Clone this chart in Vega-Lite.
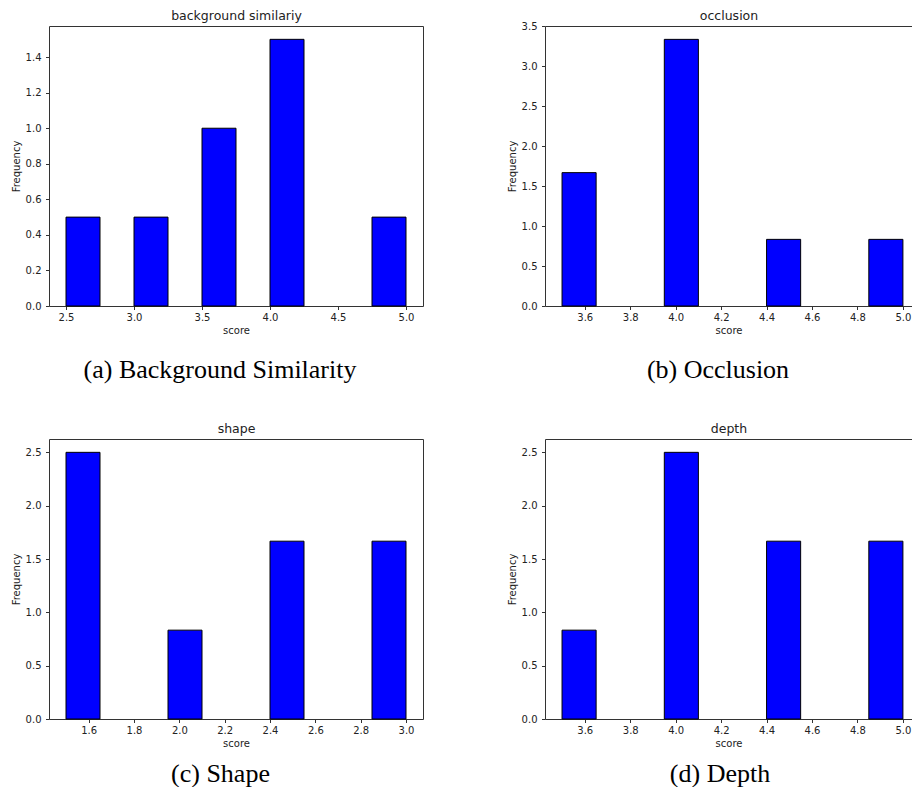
{
  "$schema": "https://vega.github.io/schema/vega-lite/v6.json",
  "background": "white",
  "padding": {"left": 11, "top": 9, "right": 0, "bottom": 0},
  "config": {
    "view": {"stroke": null},
    "font": "DejaVu Sans",
    "axis": {
      "grid": false,
      "domainColor": "#333333",
      "domainWidth": 1,
      "tickColor": "#333333",
      "tickSize": 3.5,
      "labelColor": "#222222",
      "titleColor": "#222222",
      "labelFont": "DejaVu Sans",
      "titleFont": "DejaVu Sans",
      "labelFontSize": 10,
      "titleFontSize": 10,
      "titleFontWeight": "normal"
    },
    "title": {
      "font": "Liberation Serif",
      "fontSize": 26,
      "fontWeight": "normal",
      "color": "black",
      "orient": "bottom",
      "anchor": "middle",
      "frame": "group",
      "offset": 17
    }
  },
  "datasets": {
    "bg": [
      {"start": 2.5, "end": 2.75, "freq": 0.5},
      {"start": 3.0, "end": 3.25, "freq": 0.5},
      {"start": 3.5, "end": 3.75, "freq": 1.0},
      {"start": 4.0, "end": 4.25, "freq": 1.5},
      {"start": 4.75, "end": 5.0, "freq": 0.5}
    ],
    "occ": [
      {"start": 3.5, "end": 3.65, "freq": 1.667},
      {"start": 3.95, "end": 4.1, "freq": 3.333},
      {"start": 4.4, "end": 4.55, "freq": 0.833},
      {"start": 4.85, "end": 5.0, "freq": 0.833}
    ],
    "shape": [
      {"start": 1.5, "end": 1.65, "freq": 2.5},
      {"start": 1.95, "end": 2.1, "freq": 0.833},
      {"start": 2.4, "end": 2.55, "freq": 1.667},
      {"start": 2.85, "end": 3.0, "freq": 1.667}
    ],
    "depth": [
      {"start": 3.5, "end": 3.65, "freq": 0.833},
      {"start": 3.95, "end": 4.1, "freq": 2.5},
      {"start": 4.4, "end": 4.55, "freq": 1.667},
      {"start": 4.85, "end": 5.0, "freq": 1.667}
    ]
  },
  "spacing": 39,
  "vconcat": [
    {
      "spacing": 84,
      "hconcat": [
        {
          "width": 374, "height": 280,
          "data": {"name": "bg"},
          "title": {"text": "(a) Background Similarity", "dx": -16, "offset": 21},
          "resolve": {"axis": {"x": "independent", "y": "independent"}},
          "layer": [
            {
              "mark": {"type": "bar", "fill": "#0000ff", "stroke": "black", "strokeWidth": 1},
              "encoding": {
                "x": {"field": "start", "type": "quantitative", "scale": {"domain": [2.375, 5.125], "nice": false, "zero": false},
                      "axis": {"title": "score", "values": [2.5, 3.0, 3.5, 4.0, 4.5, 5.0], "format": ".1f", "labelPadding": 3, "titlePadding": 3}},
                "x2": {"field": "end"},
                "y": {"field": "freq", "type": "quantitative", "scale": {"domain": [0, 1.575], "nice": false},
                      "axis": {"title": "Frequency", "values": [0, 0.2, 0.4, 0.6, 0.8, 1.0, 1.2, 1.4], "format": ".1f", "labelPadding": 4.5, "titlePadding": 4}},
                "y2": {"datum": 0}
              }
            },
            {
              "mark": {"type": "point", "opacity": 0},
              "encoding": {
                "x": {"field": "start", "type": "quantitative", "scale": {"domain": [2.375, 5.125], "nice": false, "zero": false},
                      "axis": {"orient": "top", "title": "background similariy", "titleFontSize": 12.5, "titlePadding": 4, "labels": false, "ticks": false}},
                "y": {"field": "freq", "type": "quantitative", "scale": {"domain": [0, 1.575], "nice": false},
                      "axis": {"orient": "right", "title": null, "labels": false, "ticks": false}}
              }
            }
          ]
        },
        {
          "width": 367, "height": 280,
          "data": {"name": "occ"},
          "title": {"text": "(b) Occlusion", "dx": -10.5, "offset": 21},
          "resolve": {"axis": {"x": "independent", "y": "independent"}},
          "layer": [
            {
              "mark": {"type": "bar", "fill": "#0000ff", "stroke": "black", "strokeWidth": 1},
              "encoding": {
                "x": {"field": "start", "type": "quantitative", "scale": {"domain": [3.425, 5.04], "nice": false, "zero": false},
                      "axis": {"title": "score", "values": [3.6, 3.8, 4.0, 4.2, 4.4, 4.6, 4.8, 5.0], "format": ".1f", "labelPadding": 3, "titlePadding": 3}},
                "x2": {"field": "end"},
                "y": {"field": "freq", "type": "quantitative", "scale": {"domain": [0, 3.5], "nice": false},
                      "axis": {"title": "Frequency", "values": [0, 0.5, 1.0, 1.5, 2.0, 2.5, 3.0, 3.5], "format": ".1f", "labelPadding": 4.5, "titlePadding": 4}},
                "y2": {"datum": 0}
              }
            },
            {
              "mark": {"type": "point", "opacity": 0},
              "encoding": {
                "x": {"field": "start", "type": "quantitative", "scale": {"domain": [3.425, 5.04], "nice": false, "zero": false},
                      "axis": {"orient": "top", "title": "occlusion", "titleFontSize": 12.5, "titlePadding": 4, "labels": false, "ticks": false}}
              }
            }
          ]
        }
      ]
    },
    {
      "spacing": 84,
      "hconcat": [
        {
          "width": 374, "height": 280,
          "data": {"name": "shape"},
          "title": {"text": "(c) Shape", "dx": -15.5, "offset": 12},
          "resolve": {"axis": {"x": "independent", "y": "independent"}},
          "layer": [
            {
              "mark": {"type": "bar", "fill": "#0000ff", "stroke": "black", "strokeWidth": 1},
              "encoding": {
                "x": {"field": "start", "type": "quantitative", "scale": {"domain": [1.425, 3.075], "nice": false, "zero": false},
                      "axis": {"title": "score", "values": [1.6, 1.8, 2.0, 2.2, 2.4, 2.6, 2.8, 3.0], "format": ".1f", "labelPadding": 3, "titlePadding": 3}},
                "x2": {"field": "end"},
                "y": {"field": "freq", "type": "quantitative", "scale": {"domain": [0, 2.625], "nice": false},
                      "axis": {"title": "Frequency", "values": [0, 0.5, 1.0, 1.5, 2.0, 2.5], "format": ".1f", "labelPadding": 4.5, "titlePadding": 4}},
                "y2": {"datum": 0}
              }
            },
            {
              "mark": {"type": "point", "opacity": 0},
              "encoding": {
                "x": {"field": "start", "type": "quantitative", "scale": {"domain": [1.425, 3.075], "nice": false, "zero": false},
                      "axis": {"orient": "top", "title": "shape", "titleFontSize": 12.5, "titlePadding": 4, "labels": false, "ticks": false}},
                "y": {"field": "freq", "type": "quantitative", "scale": {"domain": [0, 2.625], "nice": false},
                      "axis": {"orient": "right", "title": null, "labels": false, "ticks": false}}
              }
            }
          ]
        },
        {
          "width": 367, "height": 280,
          "data": {"name": "depth"},
          "title": {"text": "(d) Depth", "dx": -8.5, "offset": 12},
          "resolve": {"axis": {"x": "independent", "y": "independent"}},
          "layer": [
            {
              "mark": {"type": "bar", "fill": "#0000ff", "stroke": "black", "strokeWidth": 1},
              "encoding": {
                "x": {"field": "start", "type": "quantitative", "scale": {"domain": [3.425, 5.04], "nice": false, "zero": false},
                      "axis": {"title": "score", "values": [3.6, 3.8, 4.0, 4.2, 4.4, 4.6, 4.8, 5.0], "format": ".1f", "labelPadding": 3, "titlePadding": 3}},
                "x2": {"field": "end"},
                "y": {"field": "freq", "type": "quantitative", "scale": {"domain": [0, 2.625], "nice": false},
                      "axis": {"title": "Frequency", "values": [0, 0.5, 1.0, 1.5, 2.0, 2.5], "format": ".1f", "labelPadding": 4.5, "titlePadding": 4}},
                "y2": {"datum": 0}
              }
            },
            {
              "mark": {"type": "point", "opacity": 0},
              "encoding": {
                "x": {"field": "start", "type": "quantitative", "scale": {"domain": [3.425, 5.04], "nice": false, "zero": false},
                      "axis": {"orient": "top", "title": "depth", "titleFontSize": 12.5, "titlePadding": 4, "labels": false, "ticks": false}}
              }
            }
          ]
        }
      ]
    }
  ]
}
